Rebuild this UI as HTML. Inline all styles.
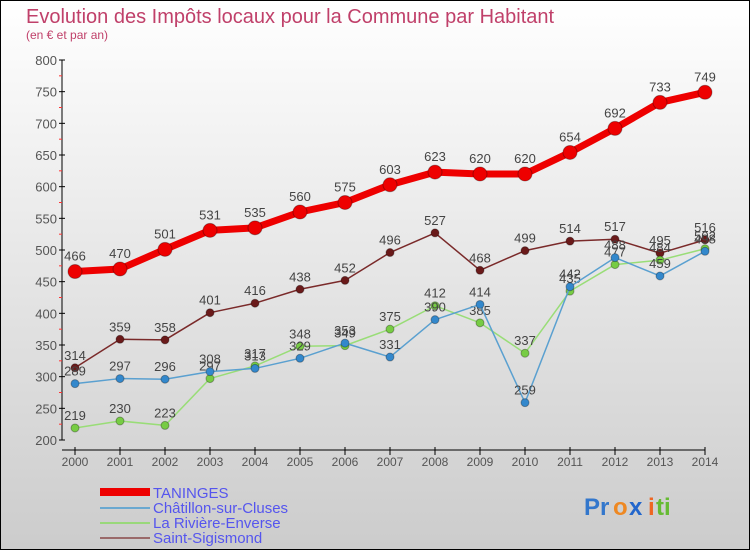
<!DOCTYPE html>
<html><head><meta charset="utf-8"><style>
html,body{margin:0;padding:0}
body{width:750px;height:550px;overflow:hidden;font-family:"Liberation Sans",sans-serif}
</style></head><body>
<svg width="750" height="550" xmlns="http://www.w3.org/2000/svg">
<defs><linearGradient id="bg" x1="0" y1="0" x2="0" y2="1"><stop offset="0" stop-color="#ffffff"/><stop offset="1" stop-color="#cccccc"/></linearGradient></defs>
<rect x="0.5" y="0.5" width="749" height="549" fill="url(#bg)" stroke="#000"/>
<text x="26" y="23" font-size="20" fill="#c0406a">Evolution des Impôts locaux pour la Commune par Habitant</text>
<text x="26" y="39" font-size="12" fill="#c0406a">(en € et par an)</text>
<g id="axes"></g><g id="series"></g>
<g>
<rect x="100" y="488" width="50" height="8" fill="#ee0000"/>
<line x1="100" y1="508" x2="150" y2="508" stroke="#6aa8d0" stroke-width="2"/>
<line x1="100" y1="523" x2="150" y2="523" stroke="#99d87a" stroke-width="2"/>
<line x1="100" y1="538" x2="150" y2="538" stroke="#9a6a6a" stroke-width="2"/>
<text x="153" y="498" font-size="15" fill="#5555ee">TANINGES</text>
<text x="153" y="513" font-size="15" fill="#5555ee">Châtillon-sur-Cluses</text>
<text x="153" y="528" font-size="15" fill="#5555ee">La Rivière-Enverse</text>
<text x="153" y="543" font-size="15" fill="#5555ee">Saint-Sigismond</text>
</g>
<g font-size="24" font-weight="bold">
<text x="584" y="515" fill="#3377cc">Pr</text><text x="613" y="515" fill="#ee8822">o</text><text x="629" y="515" fill="#2266cc">x</text><text x="648" y="515" fill="#ee6622">i</text><text x="656" y="515" fill="#66bb33">ti</text>
</g>
</svg>
<script>
const years=[2000,2001,2002,2003,2004,2005,2006,2007,2008,2009,2010,2011,2012,2013,2014];
const taninges=[466,470,501,531,535,560,575,603,623,620,620,654,692,733,749];
const chatillon=[289,297,296,308,313,329,353,331,390,414,259,442,488,459,498];
const riviere=[219,230,223,297,317,348,349,375,412,385,337,435,477,484,502];
const saint=[314,359,358,401,416,438,452,496,527,468,499,514,517,495,516];
const yTicks=[200,250,300,350,400,450,500,550,600,650,700,750,800];
const NS="http://www.w3.org/2000/svg";
const xs=i=>75+i*45;
const ys=v=>440-(v-200)*380/600;
function mk(tag,attrs,parent){const e=document.createElementNS(NS,tag);for(const k in attrs)e.setAttribute(k,attrs[k]);parent.appendChild(e);return e;}
const ax=document.getElementById('axes');
let l=mk('line',{x1:62,y1:60,x2:62,y2:440,stroke:'#000'},ax);


l=mk('line',{x1:62,y1:450,x2:705,y2:450,stroke:'#000'},ax);


yTicks.forEach((v,i)=>{
  mk('line',{x1:59,y1:ys(v),x2:65,y2:ys(v),stroke:'#000'},ax);
  if(i<yTicks.length-1){mk('line',{x1:59,y1:ys(v+25),x2:62,y2:ys(v+25),stroke:'#ff3333'},ax);}
  const t=mk('text',{x:57,y:ys(v)+5,'font-size':13,'text-anchor':'end',fill:'#555'},ax);
  t.textContent=v;
  
  
});
years.forEach((y,i)=>{
  mk('line',{x1:xs(i),y1:447,x2:xs(i),y2:455,stroke:'#000'},ax);
  const t=mk('text',{x:xs(i),y:466,'font-size':12,'text-anchor':'middle',fill:'#555'},ax);
  t.textContent=y;
  
  
});
const sg=document.getElementById('series');
function draw(data,name,color,dot,w,r,fs){
  const g=mk('g',{},sg);
  
  
  const p=mk('polyline',{points:data.map((v,i)=>xs(i)+','+ys(v)).join(' '),fill:'none',stroke:color,'stroke-width':w,'stroke-linejoin':'round'},g);
  
  
  data.forEach((v,i)=>{
    const c=mk('circle',{cx:xs(i),cy:ys(v),r:r,fill:dot,stroke:'rgba(0,0,0,0.3)'},g);
    
    
    const t=mk('text',{x:xs(i),y:ys(v)-r-4,'font-size':fs,'text-anchor':'middle',fill:'#444'},g);
    t.textContent=v;
    
    
  });
}
draw(saint,'saint-sigismond','#7a2a2a','#6a1a1a',1.5,4,13);
draw(riviere,'la-riviere-enverse','#99dd77','#77cc44',1.5,4,13);
draw(chatillon,'chatillon-sur-cluses','#5aa0d0','#3388cc',1.5,4,13);
draw(taninges,'taninges','#ee0000','#ee0000',7,7,13);
</script>
</body></html>
